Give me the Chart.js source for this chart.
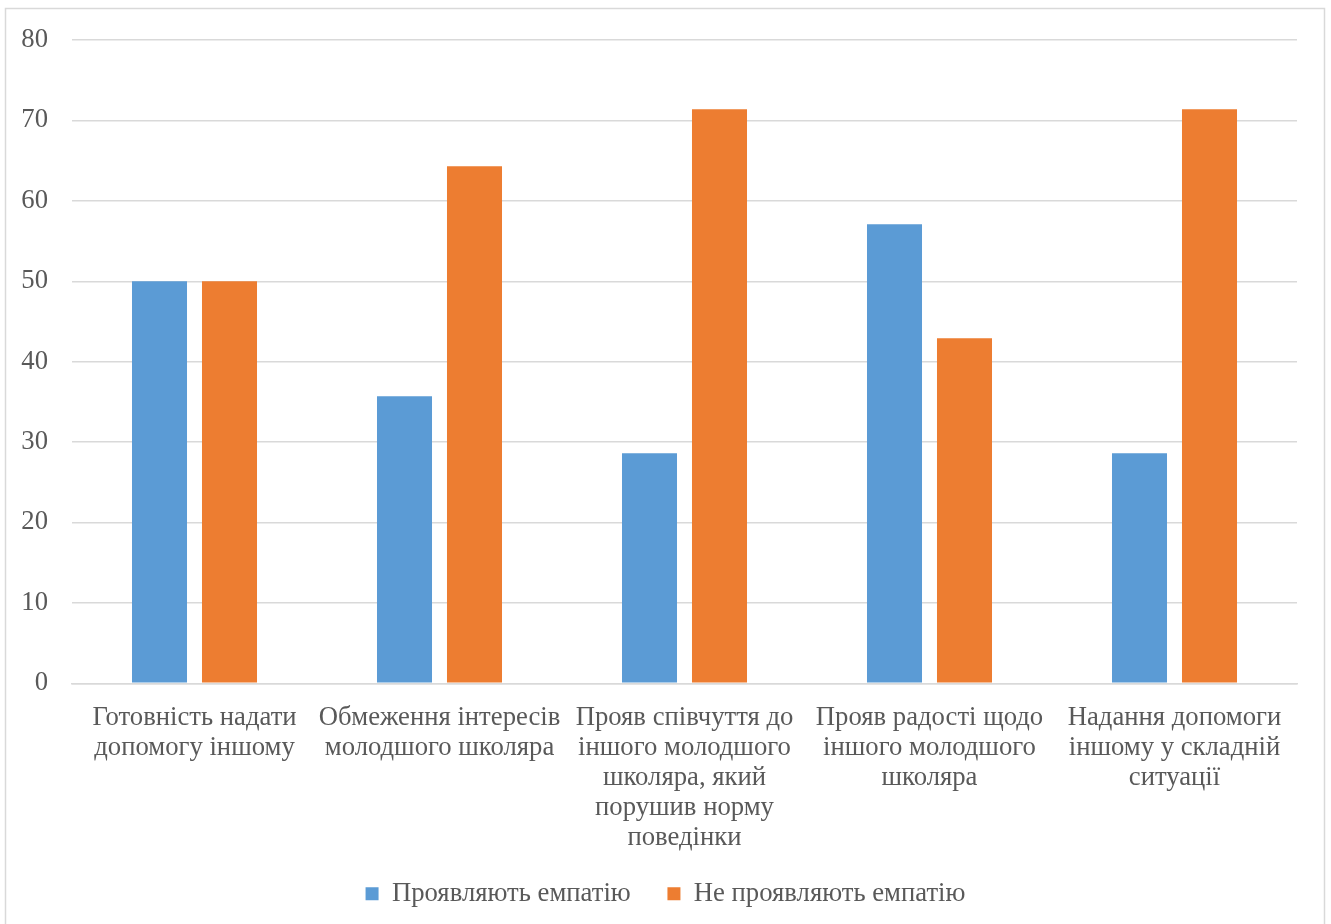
<!DOCTYPE html>
<html>
<head>
<meta charset="utf-8">
<script src="https://cdn.jsdelivr.net/npm/chart.js@4.4.1/dist/chart.umd.min.js"></script>
<style>
  html, body { margin: 0; padding: 0; background: #fff; }
  #wrap { width: 1331px; height: 924px; }
</style>
</head>
<body>
<div id="wrap"><canvas id="chart" width="1331" height="924"></canvas></div>
<script>
const categories = [
  ["Готовність надати", "допомогу іншому"],
  ["Обмеження інтересів", "молодшого школяра"],
  ["Прояв співчуття до", "іншого молодшого", "школяра, який", "порушив норму", "поведінки"],
  ["Прояв радості щодо", "іншого молодшого", "школяра"],
  ["Надання допомоги", "іншому у складній", "ситуації"]
];
const seriesNames = ["Проявляють емпатію", "Не проявляють емпатію"];
const showEmpathy = [50, 35.7, 28.6, 57.1, 28.6];
const noEmpathy = [50, 64.3, 71.4, 42.9, 71.4];

const TEXT = "#595959";
const GRID = "#d9d9d9";
const FONT = "'Liberation Serif', 'Times New Roman', serif";

// outer frame like the office chart area
const frame = {
  id: "frame",
  beforeDraw(chart) {
    const c = chart.ctx;
    c.save();
    c.fillStyle = "#fff";
    c.fillRect(0, 0, chart.width, chart.height);
    c.strokeStyle = GRID;
    c.lineWidth = 1.5;
    c.strokeRect(5.5, 8.5, 1319, 940);
    c.restore();
  }
};

new Chart(document.getElementById("chart"), {
  type: "bar",
  data: {
    labels: categories,
    datasets: [
      { label: seriesNames[0], data: showEmpathy, backgroundColor: "#5B9BD5" },
      { label: seriesNames[1], data: noEmpathy, backgroundColor: "#ED7D31" }
    ]
  },
  options: {
    responsive: false,
    animation: false,
    devicePixelRatio: 1,
    categoryPercentage: 0.5714,
    barPercentage: 0.786,
    layout: { padding: { top: 35, right: 0, bottom: 7, left: 0 } },
    plugins: {
      legend: {
        position: "bottom",
        labels: {
          color: TEXT,
          font: { family: FONT, size: 26.7 },
          boxWidth: 13,
          boxHeight: 13,
          padding: 10,
          // wider gap between the two legend entries, like the original
          generateLabels(chart) {
            const items = Chart.defaults.plugins.legend.labels.generateLabels(chart);
            items.forEach((it, i) => { if (i < items.length - 1) it.text += "\u2003"; });
            return items;
          }
        }
      },
      tooltip: { enabled: false }
    },
    scales: {
      x: {
        grid: { display: false, drawTicks: false },
        border: { color: GRID, width: 1.5 },
        ticks: {
          color: TEXT,
          font: { family: FONT, size: 26.7, lineHeight: 1.124 },
          padding: 20,
          autoSkip: false,
          maxRotation: 0
        },
        afterFit(axis) { axis.height = 187; }
      },
      y: {
        min: 0,
        max: 80,
        grid: { color: GRID, lineWidth: 1.5, drawTicks: false },
        border: { display: false },
        ticks: {
          stepSize: 10,
          color: TEXT,
          font: { family: FONT, size: 26.7 },
          padding: 24
        },
        afterFit(axis) { axis.width = 72; }
      },
      // empty right margin so the legend stays centred on the whole canvas
      right: {
        position: "right",
        grid: { display: false, drawTicks: false },
        border: { display: false },
        ticks: { display: false },
        afterFit(axis) { axis.width = 34; }
      }
    }
  },
  plugins: [frame]
});
</script>
</body>
</html>
